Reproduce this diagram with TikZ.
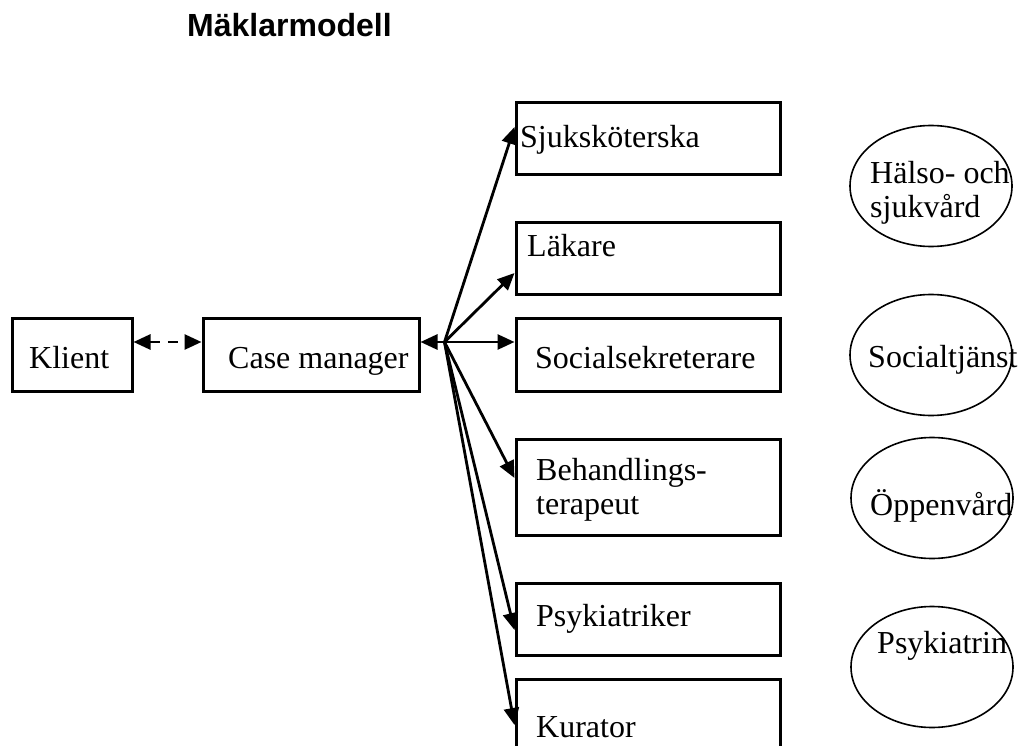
\documentclass[tikz,border=0pt]{standalone}
\usepackage{fontspec}
\setmainfont{Liberation Serif}
\newfontfamily\titlefont{Liberation Sans}
\usetikzlibrary{arrows.meta,shapes.geometric}

\begin{document}
\begin{tikzpicture}[x=1pt,y=-1pt,
    box/.style={draw, line width=3pt, inner sep=0pt, minimum width=264pt},
    org/.style={draw, ellipse, line width=1.6pt, inner sep=0pt, minimum width=162pt, minimum height=121pt},
    txt/.style={anchor=base west, inner sep=0pt, align=left, font=\fontsize{32}{34}\selectfont},
    arr/.style={line width=2.8pt, -{Triangle[length=17pt,width=15pt]}},
    darr/.style={line width=2.8pt, {Triangle[length=17pt,width=15pt]}-{Triangle[length=17pt,width=15pt]}}]
  \clip (0,0) rectangle (1020,746);
  \node[anchor=base west, inner sep=0pt, font=\titlefont\bfseries\fontsize{32}{36}\selectfont] (title) at (187,37) {Mäklarmodell};

  % klient och case manager
  \node[box, minimum width=120pt, minimum height=73pt] (klient) at (72,354.5) {};
  \node[box, minimum width=216pt, minimum height=73pt] (case) at (311,354.5) {};
  \node[txt] (tklient) at (29,368) {Klient};
  \node[txt] (tcase) at (228,368) {Case manager};

  % yrkesgrupper
  \node[box, minimum height=72pt] (sjuk) at (648,139) {};
  \node[box, minimum height=71pt] (lakare) at (648,258.5) {};
  \node[box, minimum height=73pt] (social) at (648,354.5) {};
  \node[box, minimum height=96pt] (behand) at (648,487) {};
  \node[box, minimum height=72pt] (psyk) at (648,619) {};
  \node[box, minimum height=80pt] (kurator) at (648,719) {};
  \node[txt] (tsjuk) at (520,148) {Sjuksköterska};
  \node[txt] (tlakare) at (527,257) {Läkare};
  \node[txt] (tsocial) at (535,368) {Socialsekreterare};
  \node[txt] (tbehand) at (536,514) {Behandlings-\\terapeut};
  \node[txt] (tpsyk) at (536,626) {Psykiatriker};
  \node[txt] (tkurator) at (536,737) {Kurator};

  % huvudmän
  \node[org] (halso) at (931,186) {};
  \node[org] (socialtj) at (931,355) {};
  \node[org] (oppen) at (932,498) {};
  \node[org] (psykiatrin) at (932,667) {};
  \node[txt] (thalso) at (870,218) {Hälso- och\\sjukvård};
  \node[txt] (tsocialtj) at (868,367) {Socialtjänst};
  \node[txt] (toppen) at (870,515) {Öppenvård};
  \node[txt] (tpsykiatrin) at (877,653) {Psykiatrin};

  \draw[darr, dashed, dash pattern=on 10pt off 8pt] ([yshift=12.5pt]klient.east) -- ([yshift=12.5pt]case.east -| case.west);
  \draw[darr] ([yshift=12.5pt]case.east) -- ([yshift=12.5pt]social.west);
  \coordinate (hub) at ([xshift=24pt,yshift=12.5pt]case.east);
  \foreach \b/\s in {sjuk/12, lakare/-14.5, behand/9, psyk/-11, kurator/-6}
    \draw[arr] (hub) -- ([yshift=\s pt]\b.west);
\end{tikzpicture}
\end{document}
